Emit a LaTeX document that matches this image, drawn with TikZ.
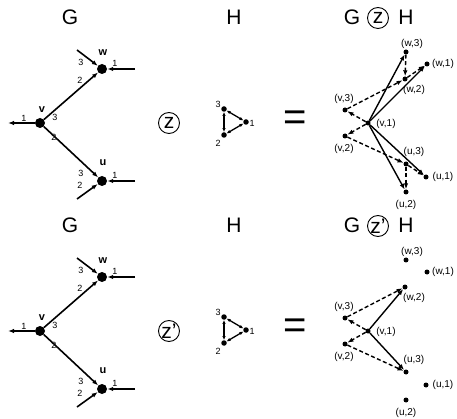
\documentclass[tikz,border=0pt]{standalone}
\usepackage{fontspec}
\setmainfont{Liberation Sans}
\usetikzlibrary{arrows.meta}
\begin{document}
\begin{tikzpicture}[x=1pt,y=-1pt,
 gdot/.style={circle,fill,inner sep=0pt,minimum size=10pt},
 hdot/.style={circle,fill,inner sep=0pt,minimum size=5.5pt},
 pdot/.style={circle,fill,inner sep=0pt,minimum size=5pt},
 gedge/.style={line width=1.6pt,-{Latex[length=6pt,width=4.5pt]}},
 hedge/.style={line width=1.3pt,{Latex[length=4pt,width=3.5pt]}-{Latex[length=4pt,width=3.5pt]}},
 solidp/.style={line width=1.4pt,-{Latex[length=6pt,width=4.5pt]}},
 dashp/.style={line width=1.4pt,dash pattern=on 4pt off 2.5pt,-{Latex[length=6pt,width=4.5pt]}},
 port/.style={font=\fontsize{9}{9}\selectfont,inner sep=0pt},
 vlab/.style={font=\bfseries\fontsize{11}{11}\selectfont,inner sep=0pt},
 plab/.style={font=\fontsize{10}{10}\selectfont,inner sep=0pt},
 ttl/.style={font=\fontsize{21}{21}\selectfont,inner sep=0pt},
 zz/.style={circle,draw,line width=0.9pt,minimum size=21pt,inner sep=0pt,font=\fontsize{21}{21}\selectfont},
 eq/.style={font=\fontsize{40}{40}\selectfont,inner sep=0pt},
]
\useasboundingbox (0,0) rectangle (457,419);
\foreach \p/\dy/\zs in {t/0/z, b/208/z'}{
 % titles
 \node[ttl] (\p tG) at (70,17+\dy) {G};
 \node[ttl] (\p tH) at (234,17+\dy) {H};
 \node[ttl] (\p tPG) at (352,17+\dy) {G};
 \node[zz] (\p tPZ) at (378,18+\dy) {\zs};
 \node[ttl] (\p tPH) at (406,17+\dy) {H};
 % graph G
 \node[gdot] (\p v) at (40,123+\dy) {};
 \node[gdot] (\p w) at (102,69+\dy) {};
 \node[gdot] (\p u) at (102,181+\dy) {};
 \coordinate (\p vl) at (8,123+\dy);
 \coordinate (\p wa) at (77,50+\dy);
 \coordinate (\p wb) at (135,69+\dy);
 \coordinate (\p ua) at (77,199+\dy);
 \coordinate (\p ub) at (135,181+\dy);
 \draw[gedge] (\p v) -- (\p vl);
 \draw[gedge] (\p v) -- (\p w);
 \draw[gedge] (\p v) -- (\p u);
 \draw[gedge] (\p wa) -- (\p w);
 \draw[gedge] (\p wb) -- (\p w);
 \draw[gedge] (\p ua) -- (\p u);
 \draw[gedge] (\p ub) -- (\p u);
 \node[vlab] (\p lv) at (42,110+\dy) {v};
 \node[vlab] (\p lw) at (103,53+\dy) {w};
 \node[vlab] (\p lu) at (103,163+\dy) {u};
 \node[port] (\p p1) at (24,118+\dy) {1};
 \node[port] (\p p2) at (55,117+\dy) {3};
 \node[port] (\p p3) at (80,80+\dy) {2};
 \node[port] (\p p4) at (81,62+\dy) {3};
 \node[port] (\p p5) at (115,63+\dy) {1};
 \node[port] (\p p6) at (54,137+\dy) {2};
 \node[port] (\p p7) at (81,173+\dy) {3};
 \node[port] (\p p8) at (80,185+\dy) {2};
 \node[port] (\p p9) at (115,175+\dy) {1};
 % zigzag symbol
 \node[zz] (\p z) at (169,123+\dy) {\zs};
 % graph H
 \node[hdot] (\p h3) at (224,109+\dy) {};
 \node[hdot] (\p h1) at (246,122+\dy) {};
 \node[hdot] (\p h2) at (224,135+\dy) {};
 \draw[hedge] (\p h3) -- (\p h1);
 \draw[hedge] (\p h1) -- (\p h2);
 \draw[hedge] (\p h2) -- (\p h3);
 \node[port] (\p lh3) at (218,104+\dy) {3};
 \node[port] (\p lh1) at (252,123+\dy) {1};
 \node[port] (\p lh2) at (218,143+\dy) {2};
 % equals
 \node[eq] (\p eq) at (295,121+\dy) {=};
 % product vertices
 \node[pdot] (\p w3) at (406,52+\dy) {};
 \node[pdot] (\p w1) at (427,64+\dy) {};
 \node[pdot] (\p w2) at (405,79+\dy) {};
 \node[pdot] (\p v3) at (345,110+\dy) {};
 \node[pdot] (\p v1) at (368,123+\dy) {};
 \node[pdot] (\p v2) at (345,136+\dy) {};
 \node[pdot] (\p u3) at (406,164+\dy) {};
 \node[pdot] (\p u1) at (426,177+\dy) {};
 \node[pdot] (\p u2) at (406,192+\dy) {};
 \node[plab] (\p lw3) at (412,44+\dy) {(w,3)};
 \node[plab] (\p lw1) at (443,64+\dy) {(w,1)};
 \node[plab] (\p lw2) at (414,90+\dy) {(w,2)};
 \node[plab] (\p lv3) at (344,99+\dy) {(v,3)};
 \node[plab] (\p lv1) at (386,124+\dy) {(v,1)};
 \node[plab] (\p lv2) at (344,149+\dy) {(v,2)};
 \node[plab] (\p lu3) at (414,152+\dy) {(u,3)};
 \node[plab] (\p lu1) at (443,177+\dy) {(u,1)};
 \node[plab] (\p lu2) at (406,205+\dy) {(u,2)};
 % common dashed edges
 \draw[dashp] (\p v1) -- (\p v3);
 \draw[dashp] (\p v1) -- (\p v2);
 \draw[dashp] (\p v3) -- (\p w2);
 \draw[dashp] (\p v2) -- (\p u3);
}
% top product only
\draw[dashp] (tw2) -- (tw1);
\draw[dashp] (tw3) -- (tw2);
\draw[dashp] (tu3) -- (tu1);
\draw[dashp] (tu3) -- (tu2);
\draw[solidp] (tv1) -- (tw3);
\draw[solidp] (tv1) -- (tw1);
\draw[solidp] (tv1) -- (tu1);
\draw[solidp] (tv1) -- (tu2);
% bottom product only
\draw[solidp] (bv1) -- (bw2);
\draw[solidp] (bv1) -- (bu3);
\end{tikzpicture}
\end{document}
